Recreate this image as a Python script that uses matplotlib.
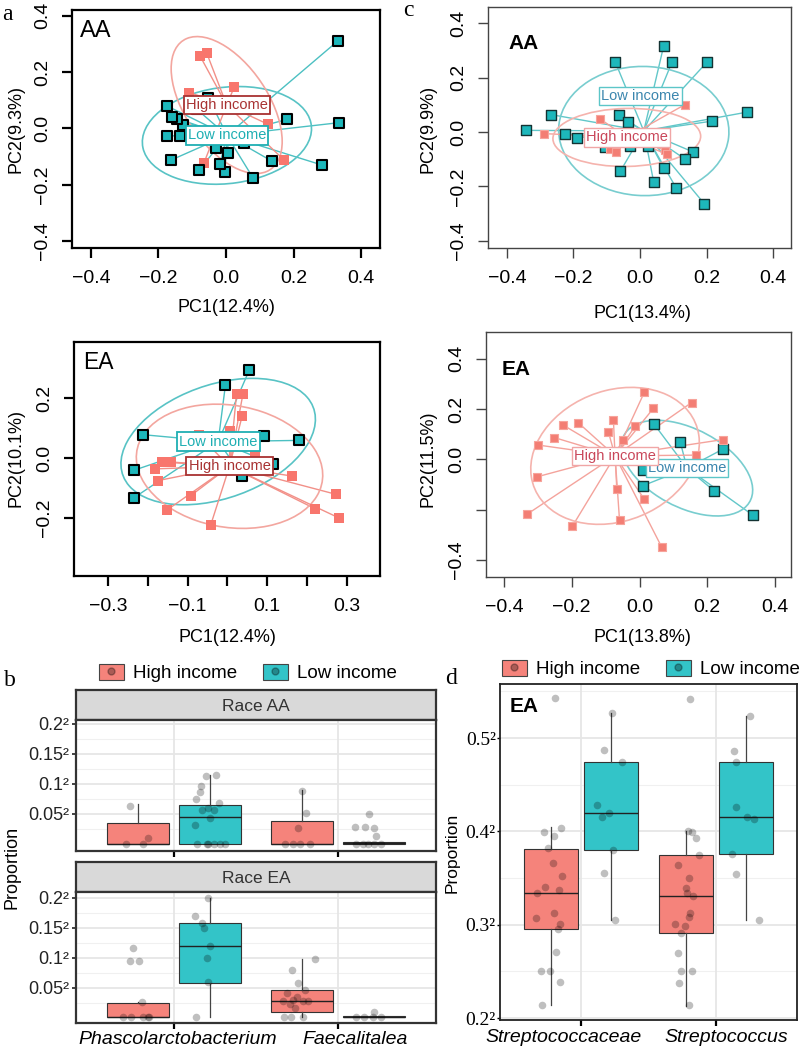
import numpy as np
import matplotlib
matplotlib.use("Agg")
import matplotlib.pyplot as plt
from matplotlib.patches import Ellipse, Patch
from matplotlib.lines import Line2D
from matplotlib.legend_handler import HandlerTuple

plt.rcParams['font.family'] = ['Liberation Sans', 'DejaVu Sans']

# ---------------- data ----------------
# a: PCoA, AA
a_aa_low_x = [0.332, 0.335, 0.283, 0.182, 0.135, 0.081, 0.054, 0.007, -0.003, -0.018, -0.030,
              -0.079, -0.163, -0.174, -0.136, -0.128, -0.146, -0.161, -0.174, -0.052, -0.087]
a_aa_low_y = [0.311, 0.020, -0.130, 0.032, -0.116, -0.178, -0.053, -0.087, -0.154, -0.128, -0.071,
              -0.148, -0.113, -0.027, -0.027, 0.011, 0.032, 0.041, 0.079, 0.109, 0.068]
a_aa_high_x = [-0.077, -0.057, -0.109, 0.025, 0.125, 0.172, -0.065]
a_aa_high_y = [0.257, 0.267, 0.127, 0.148, 0.014, -0.113, -0.122]

# a: PCoA, EA
a_ea_low_x = [0.055, -0.005, -0.212, 0.092, 0.180, -0.236, -0.236, 0.038, 0.115]
a_ea_low_y = [0.293, 0.243, 0.078, 0.074, 0.059, -0.041, -0.133, -0.058, -0.019]
a_ea_high_x = [0.023, 0.039, 0.037, 0.006, -0.072, 0.069, -0.164, -0.141, -0.183, -0.175, -0.092,
               -0.152, -0.042, 0.163, 0.221, 0.274, 0.280]
a_ea_high_y = [0.213, 0.213, 0.140, 0.092, 0.076, 0.009, -0.013, -0.013, -0.036, -0.075, -0.125,
               -0.173, -0.223, -0.060, -0.169, -0.121, -0.199]

# c: PCoA, AA
c_aa_low_x = [0.071, -0.074, 0.096, 0.201, 0.322, 0.217, -0.268, -0.342, -0.225, -0.189, -0.062,
              -0.036, -0.029, 0.023, -0.104, 0.159, 0.136, 0.071, -0.059, 0.041, 0.108, 0.193]
c_aa_low_y = [0.315, 0.256, 0.256, 0.256, 0.073, 0.040, 0.064, 0.006, -0.009, -0.021, 0.061,
              0.037, -0.051, -0.051, -0.055, -0.073, -0.100, -0.132, -0.144, -0.183, -0.204, -0.263]
c_aa_high_x = [0.134, -0.121, -0.288, -0.089, -0.071, 0.076, 0.081]
c_aa_high_y = [0.100, 0.049, -0.006, -0.061, -0.073, -0.067, -0.082]

# c: PCoA, EA
c_ea_low_x = [0.043, 0.120, 0.245, 0.011, 0.009, 0.220, 0.334]
c_ea_low_y = [0.140, 0.070, 0.040, -0.042, -0.105, -0.125, -0.221]
c_ea_high_x = [0.014, 0.154, 0.041, -0.225, -0.181, -0.077, -0.092, -0.012, -0.050, -0.252,
               -0.299, 0.247, 0.166, -0.302, -0.067, 0.014, -0.331, -0.198, -0.059, 0.065]
c_ea_high_y = [0.266, 0.226, 0.203, 0.136, 0.146, 0.156, 0.110, 0.134, 0.079, 0.087,
               0.057, 0.079, 0.017, -0.069, -0.118, -0.158, -0.217, -0.265, -0.241, -0.347]

# b: sqrt(proportion); groups = Phasc-high, Phasc-low, Faec-high, Faec-low
b_taxa = ['Phascolarctobacterium', 'Faecalitalea']
b_ticks = [0.05, 0.1, 0.15, 0.2]
b_tick_labels = ['0.05²', '0.1²', '0.15²', '0.2²']
b_aa_q1 = [0.0, 0.0, 0.0, 0.0]
b_aa_med = [0.0, 0.045, 0.0, 0.001]
b_aa_q3 = [0.035, 0.065, 0.038, 0.003]
b_aa_lo = [0.0, 0.0, 0.0, 0.0]
b_aa_hi = [0.067, 0.115, 0.090, 0.003]
b_aa_x = [[0.733, 0.703, 0.808, 0.842],
          [1.192, 1.256, 1.162, 1.156, 1.131, 1.273, 1.208, 1.242, 1.172, 1.216, 1.127,
           1.137, 1.198, 1.208, 1.242, 1.283, 1.313],
          [1.784, 1.808, 1.758, 1.677, 1.727, 1.768, 1.828],
          [2.192, 2.107, 2.168, 2.222, 2.232, 2.111, 2.152, 2.182, 2.222, 2.262]]
b_aa_y = [[0.063, 0.0, 0.0, 0.010],
          [0.113, 0.115, 0.097, 0.087, 0.075, 0.068, 0.060, 0.057, 0.057, 0.043, 0.032,
           0.0, 0.0, 0.0, 0.0, 0.0, 0.0],
          [0.088, 0.052, 0.027, 0.0, 0.0, 0.0, 0.0],
          [0.050, 0.028, 0.028, 0.026, 0.013, 0.0, 0.0, 0.0, 0.0, 0.0]]
b_ea_q1 = [0.002, 0.058, 0.010, 0.002]
b_ea_med = [0.002, 0.120, 0.028, 0.002]
b_ea_q3 = [0.025, 0.158, 0.047, 0.003]
b_ea_lo = [0.002, 0.002, 0.002, 0.002]
b_ea_hi = [0.027, 0.200, 0.098, 0.003]
b_ea_x = [[0.747, 0.733, 0.788, 0.804, 0.687, 0.737, 0.808, 0.838, 0.848],
          [1.208, 1.127, 1.172, 1.182, 1.216, 1.198, 1.208, 1.131],
          [1.859, 1.717, 1.758, 1.798, 1.687, 1.748, 1.667, 1.727, 1.788, 1.818, 1.707,
           1.737, 1.673, 1.713, 1.788],
          [2.111, 2.162, 2.222, 2.212, 2.262]]
b_ea_y = [[0.117, 0.095, 0.095, 0.027, 0.002, 0.002, 0.002, 0.002, 0.002],
          [0.200, 0.170, 0.158, 0.150, 0.120, 0.100, 0.060, 0.002],
          [0.098, 0.080, 0.058, 0.047, 0.042, 0.035, 0.028, 0.030, 0.028, 0.028, 0.023,
           0.017, 0.002, 0.002, 0.002],
          [0.002, 0.002, 0.010, 0.002, 0.002]]

# d: sqrt(proportion), EA; groups = Strep.aceae-high, -low, Strep.-high, -low
d_taxa = ['Streptococcaceae', 'Streptococcus']
d_ticks = [0.2, 0.3, 0.4, 0.5]
d_tick_labels = ['0.2²', '0.3²', '0.4²', '0.5²']
d_q1 = [0.295, 0.380, 0.291, 0.376]
d_med = [0.334, 0.420, 0.331, 0.416]
d_q3 = [0.381, 0.474, 0.375, 0.474]
d_lo = [0.214, 0.305, 0.213, 0.305]
d_hi = [0.405, 0.527, 0.400, 0.524]
d_x = [[0.811, 0.729, 0.799, 0.853, 0.754, 0.791, 0.856, 0.736, 0.836, 0.674, 0.669, 0.799,
        0.848, 0.831, 0.818, 0.706, 0.769, 0.848, 0.711],
       [1.229, 1.167, 1.303, 1.122, 1.152, 1.204, 1.239, 1.167, 1.251],
       [1.806, 1.794, 1.819, 1.851, 1.873, 1.719, 1.799, 1.776, 1.786, 1.831, 1.811, 1.799,
        1.694, 1.774, 1.739, 1.719, 1.739, 1.819, 1.724, 1.801],
       [2.249, 2.137, 2.147, 2.149, 2.229, 2.284, 2.122, 2.149, 2.321]]
d_y = [[0.543, 0.399, 0.395, 0.404, 0.382, 0.366, 0.352, 0.340, 0.337, 0.334, 0.307, 0.313,
        0.301, 0.295, 0.271, 0.250, 0.250, 0.239, 0.214],
       [0.527, 0.487, 0.474, 0.428, 0.416, 0.420, 0.380, 0.356, 0.305],
       [0.542, 0.400, 0.399, 0.393, 0.375, 0.364, 0.350, 0.339, 0.334, 0.331, 0.313, 0.308,
        0.301, 0.299, 0.291, 0.270, 0.250, 0.250, 0.238, 0.214],
       [0.524, 0.486, 0.474, 0.426, 0.416, 0.413, 0.376, 0.354, 0.305]]

# ---------------- styling ----------------
RED = '#F8766D'
TEAL = '#1DB7BB'
RED_BOX = '#F5837B'
TEAL_BOX = '#33C4C8'
W, H = 800, 1053

fig = plt.figure(figsize=(8, 10.53), dpi=100)


def box(l, t, r, b):
    return [l / W, 1 - b / H, (r - l) / W, (b - t) / H]


def px(x, y):
    return x / W, 1 - y / H


def mfmt(v):
    return f"{v:.1f}".replace('-', '\u2212')


def cov_ellipse(x, y, scale=1.51):
    c = np.cov(np.vstack([x, y]))
    vals, vecs = np.linalg.eigh(c)
    vals, vecs = vals[::-1], vecs[:, ::-1]
    ang = np.degrees(np.arctan2(vecs[1, 0], vecs[0, 0]))
    return 2 * scale * np.sqrt(vals[0]), 2 * scale * np.sqrt(vals[1]), ang


def pcoa(ax, lx, ly, hx, hy, style, low_off=(0, 0)):
    if style == 'a':
        line_c = {'low': '#4CC0C2', 'high': '#F29088'}
        ell_c = {'low': '#58C3C5', 'high': '#F3A69F'}
        txt = {'low': ('#1FAFB3', '#1FAFB3'), 'high': ('#A83232', '#A83232')}
    else:
        line_c = {'low': '#62C7C9', 'high': '#F4A39C'}
        ell_c = {'low': '#78CDCF', 'high': '#F5B3AD'}
        txt = {'low': ('#3B86AE', '#5CC6C8'), 'high': ('#C9475A', '#F0A6A6')}
    cents = {}
    for g, x, y in (('low', lx, ly), ('high', hx, hy)):
        x, y = np.asarray(x), np.asarray(y)
        cx, cy = x.mean(), y.mean()
        cents[g] = (cx, cy)
        for xi, yi in zip(x, y):
            ax.plot([cx, xi], [cy, yi], color=line_c[g], lw=1.0, zorder=1)
        w, h, ang = cov_ellipse(x, y)
        ax.add_patch(Ellipse((cx, cy), w, h, angle=ang, fill=False,
                             ec=ell_c[g], lw=1.2, zorder=1))
    if style == 'a':
        ax.scatter(hx, hy, s=55, marker='s', color=RED, lw=0, zorder=2)
        ax.scatter(lx, ly, s=52, marker='s', color=TEAL, ec='black', lw=1.5, zorder=3)
    else:
        ax.scatter(lx, ly, s=52, marker='s', color=TEAL, ec='#143333', lw=1.0, zorder=2)
        ax.scatter(hx, hy, s=38, marker='s', color='#F37E74', ec='#F7A49C', lw=0.8, zorder=3)
    for g, name in (('low', 'Low income'), ('high', 'High income')):
        cx, cy = cents[g]
        if g == 'low':
            cx, cy = cx + low_off[0], cy + low_off[1]
        tc, ec = txt[g]
        ax.text(cx, cy, name, ha='center', va='center', fontsize=10.5, color=tc, zorder=5,
                bbox=dict(boxstyle='square,pad=0.15', fc='white', ec=ec,
                          lw=1.3 if style == 'a' else 1.0))


def frame_r(ax, style, xt, xl, yt, yl, xlim, ylim):
    ax.set_xlim(*xlim)
    ax.set_ylim(*ylim)
    ax.set_xticks(xt)
    ax.set_xticklabels(xl)
    ax.set_yticks(yt)
    ax.set_yticklabels(yl)
    col = 'black' if style == 'a' else '#444444'
    lw = 1.6 if style == 'a' else 1.0
    for s in ax.spines.values():
        s.set_color(col)
        s.set_linewidth(lw)
    ax.tick_params(length=7, width=lw, color=col, labelsize=14)
    ax.tick_params(axis='x', pad=9)
    ax.tick_params(axis='y', labelrotation=90, pad=8)
    for t in ax.get_yticklabels():
        t.set_va('center')


ticks4 = [-0.4, -0.2, 0.0, 0.2, 0.4]

# a, AA
ax = fig.add_axes(box(72, 10, 380, 248))
pcoa(ax, a_aa_low_x, a_aa_low_y, a_aa_high_x, a_aa_high_y, 'a')
frame_r(ax, 'a', ticks4, [mfmt(v) for v in ticks4], ticks4, [mfmt(v) for v in ticks4],
        (-0.456, 0.456), (-0.425, 0.42))
ax.text(0.026, 0.96, 'AA', transform=ax.transAxes, fontsize=17, va='top')

# a, EA
ax = fig.add_axes(box(74, 342, 380, 576))
pcoa(ax, a_ea_low_x, a_ea_low_y, a_ea_high_x, a_ea_high_y, 'a')
xt = [-0.3, -0.2, -0.1, 0.0, 0.1, 0.2, 0.3]
frame_r(ax, 'a', xt, [mfmt(v) if i % 2 == 0 else '' for i, v in enumerate(xt)],
        [-0.2, 0.0, 0.2], [mfmt(v) for v in [-0.2, 0.0, 0.2]], (-0.386, 0.384), (-0.393, 0.387))
ax.text(0.03, 0.96, 'EA', transform=ax.transAxes, fontsize=16.5, va='top')

# c, AA
ax = fig.add_axes(box(488, 7, 791, 248))
pcoa(ax, c_aa_low_x, c_aa_low_y, c_aa_high_x, c_aa_high_y, 'c', low_off=(-0.01, 0.128))
frame_r(ax, 'c', ticks4, [mfmt(v) for v in ticks4], ticks4, [mfmt(v) for v in ticks4],
        (-0.457, 0.454), (-0.426, 0.459))
ax.text(0.066, 0.89, 'AA', transform=ax.transAxes, fontsize=15, fontweight='bold', va='top')

# c, EA
ax = fig.add_axes(box(486, 332, 791, 577))
pcoa(ax, c_ea_low_x, c_ea_low_y, c_ea_high_x, c_ea_high_y, 'c')
frame_r(ax, 'c', ticks4, [mfmt(v) for v in ticks4], ticks4,
        [mfmt(v) if v != -0.2 else '' for v in ticks4], (-0.453, 0.447), (-0.467, 0.506))
ax.text(0.052, 0.885, 'EA', transform=ax.transAxes, fontsize=15, fontweight='bold', va='top')

# axis titles of the PCoA panels
for (x, y, s) in [(226, 308, 'PC1(12.4%)'), (227, 637, 'PC1(12.4%)'),
                  (642, 314, 'PC1(13.4%)'), (642, 637, 'PC1(13.8%)')]:
    fig.text(*px(x, y), s, ha='center', va='center', fontsize=13)
for (x, y, s) in [(16, 129, 'PC2(9.3%)'), (16, 458, 'PC2(10.1%)'),
                  (428, 129, 'PC2(9.9%)'), (428, 459, 'PC2(11.5%)')]:
    fig.text(*px(x, y), s, ha='center', va='center', fontsize=13, rotation=90)


# ---------------- box plots ----------------
def boxes(ax, q1, med, q3, lo, hi, xs, ys, width, offset):
    pos = [1 - offset, 1 + offset, 2 - offset, 2 + offset]
    stats = [dict(q1=q1[i], med=med[i], q3=q3[i], whislo=lo[i], whishi=hi[i], fliers=[])
             for i in range(4)]
    art = ax.bxp(stats, positions=pos, widths=width, patch_artist=True, showfliers=False,
                 showcaps=False, manage_ticks=False,
                 boxprops=dict(edgecolor='#333333', lw=0.8),
                 medianprops=dict(color='#222222', lw=1.0),
                 whiskerprops=dict(color='#444444', lw=0.9))
    for i, b in enumerate(art['boxes']):
        b.set_facecolor(RED_BOX if i % 2 == 0 else TEAL_BOX)
        b.set_zorder(2)
    for xg, yg in zip(xs, ys):
        ax.scatter(xg, yg, s=30, color='black', alpha=0.25, lw=0, zorder=4)


def gg_grid(ax, major, minor):
    for v in major:
        ax.axhline(v, color='#E6E6E6', lw=1.3, zorder=0)
    for v in minor:
        ax.axhline(v, color='#F0F0F0', lw=0.8, zorder=0)
    for v in (1, 2):
        ax.axvline(v, color='#E6E6E6', lw=1.3, zorder=0)


b_minor = [0.025, 0.075, 0.125, 0.175]
panels_b = [
    ('Race AA', 690, 720, 851, b_aa_q1, b_aa_med, b_aa_q3, b_aa_lo, b_aa_hi, b_aa_x, b_aa_y, 844),
    ('Race EA', 862, 892, 1023, b_ea_q1, b_ea_med, b_ea_q3, b_ea_lo, b_ea_hi, b_ea_x, b_ea_y, 1018),
]
for (title, st, top, bot, q1, med, q3, lo, hi, xs, ys, zero) in panels_b:
    sax = fig.add_axes(box(76, st, 436, top))
    sax.set_facecolor('#D9D9D9')
    sax.set_xticks([])
    sax.set_yticks([])
    for s in sax.spines.values():
        s.set_color('#333333')
        s.set_linewidth(1.6)
    sax.text(0.5, 0.45, title, ha='center', va='center', fontsize=12.5, color='#333333',
             transform=sax.transAxes)
    ax = fig.add_axes(box(76, top, 436, bot))
    gg_grid(ax, b_ticks, b_minor)
    boxes(ax, q1, med, q3, lo, hi, xs, ys, 0.38, 0.22)
    ax.set_xlim(0.4, 2.6)
    ax.set_ylim(-(bot - zero) / 600, (zero - top) / 600)
    ax.set_yticks(b_ticks)
    ax.set_yticklabels(b_tick_labels)
    ax.set_xticks([1, 2])
    ax.set_xticklabels([])
    for s in ax.spines.values():
        s.set_color('#333333')
        s.set_linewidth(1.6)
    ax.tick_params(axis='y', length=3, width=1.2, pad=2, labelsize=13, colors='#222222')
    ax.tick_params(axis='x', length=4, width=1.6, pad=3)

# category names under panel b (placed as in the source figure)
for (x, s) in [(178, b_taxa[0]), (355, b_taxa[1])]:
    fig.text(*px(x, 1040), s, ha='center', va='center', fontsize=14, style='italic')
fig.text(*px(12, 867), 'Proportion', ha='center', va='center', rotation=90, fontsize=13)

# d
ax = fig.add_axes(box(500, 684, 797, 1020))
gg_grid(ax, d_ticks, [0.25, 0.35, 0.45, 0.55])
boxes(ax, d_q1, d_med, d_q3, d_lo, d_hi, d_x, d_y, 0.4, 0.225)
ax.set_xlim(0.4, 2.6)
ax.set_ylim(0.198, 0.558)
ax.set_yticks(d_ticks)
ax.set_yticklabels(d_tick_labels, family='Liberation Serif')
ax.set_xticks([1, 2])
ax.set_xticklabels([])
for s in ax.spines.values():
    s.set_color('#222222')
    s.set_linewidth(1.3)
ax.tick_params(axis='y', length=2, width=1, pad=1, labelsize=14)
ax.tick_params(axis='x', length=4, width=1.6, pad=2)
ax.text(0.034, 0.96, 'EA', transform=ax.transAxes, fontsize=15, fontweight='bold', va='top')
for (x, s) in [(564, d_taxa[0]), (726, d_taxa[1])]:
    fig.text(*px(x, 1037), s, ha='center', va='center', fontsize=14, style='italic')
fig.text(*px(452, 853), 'Proportion', ha='center', va='center', rotation=90, fontsize=12.5)

# legends
handles = []
for col in (RED_BOX, TEAL_BOX):
    handles.append((Patch(facecolor=col, edgecolor='#444444', lw=0.8),
                    Line2D([], [], marker='o', ls='', color='black', alpha=0.3, markersize=5)))
for cx, cy in ((248, 673), (651, 669)):
    fig.legend(handles, ['High income', 'Low income'], loc='center', bbox_to_anchor=px(cx, cy),
               ncol=2, frameon=False, fontsize=13.5, handler_map={tuple: HandlerTuple(ndivide=1)},
               handlelength=1.3, handleheight=1.0, columnspacing=1.4, handletextpad=0.5)

# panel letters
for (x, y, s) in [(7, 15, 'a'), (408, 10, 'c'), (10, 681, 'b'), (451, 678, 'd')]:
    fig.text(*px(x, y), s, ha='center', va='center', fontsize=17, family='Liberation Serif')

fig.savefig('out.png', dpi=100)
